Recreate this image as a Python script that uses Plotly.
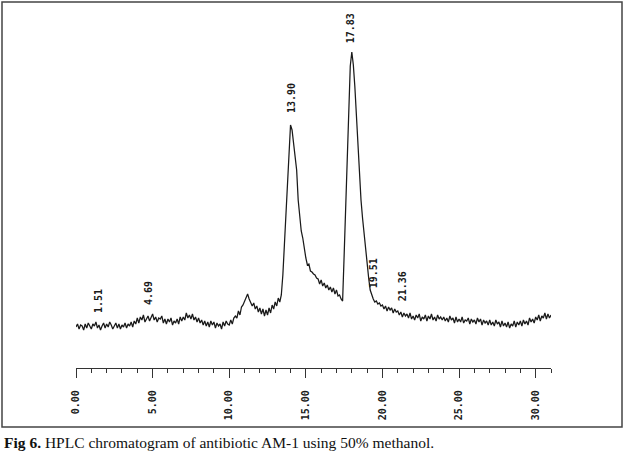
import plotly.graph_objects as go

# Detector signal sampled every 0.1 min from 0.0 to 31.0 min (arbitrary units above baseline)
signal = [
    3, 6, 1, 5, 4, 0, 6, 2, 7, 3,
    1, 6, 4, 8, 2, 5, 0, 4, 7, 2,
    6, 3, 8, 5, 1, 4, 7, 2, 6, 1,
    5, 3, 7, 2, 6, 4, 8, 3, 9, 6,
    12, 7, 13, 10, 15, 8, 12, 14, 9, 13,
    16, 10, 13, 8, 12, 11, 14, 7, 11, 6,
    11, 8, 12, 5, 9, 7, 11, 6, 13, 9,
    13, 10, 17, 12, 15, 11, 16, 10, 13, 8,
    12, 7, 10, 5, 9, 4, 8, 3, 9, 5,
    8, 2, 7, 4, 6, 1, 8, 4, 9, 6,
    5, 10, 6, 12, 14, 12, 19, 15, 23, 25,
    29, 33, 36, 31, 28, 24, 27, 21, 24, 18,
    22, 16, 21, 14, 20, 15, 22, 17, 25, 21,
    28, 24, 32, 28, 35, 55, 85, 112, 140, 170,
    205, 200, 185, 172, 160, 130, 110, 99, 92, 80,
    72, 65, 66, 59, 58, 56, 55, 52, 51, 46,
    50, 44, 47, 42, 45, 40, 43, 38, 42, 36,
    40, 34, 35, 31, 29, 75, 128, 178, 235, 264,
    278, 265, 243, 212, 177, 150, 130, 112, 96, 82,
    68, 52, 40, 34, 31, 28, 29, 26, 27, 24,
    25, 21, 24, 19, 23, 20, 22, 17, 21, 18,
    19, 15, 18, 13, 17, 14, 16, 12, 17, 11,
    14, 10, 15, 12, 16, 9, 13, 11, 15, 9,
    14, 11, 16, 10, 13, 9, 15, 11, 13, 10,
    13, 9, 12, 8, 14, 10, 12, 7, 13, 8,
    11, 8, 13, 7, 10, 9, 12, 6, 11, 8,
    10, 6, 12, 8, 11, 5, 10, 7, 9, 5,
    10, 5, 8, 4, 10, 6, 8, 3, 9, 4,
    7, 3, 8, 2, 6, 4, 9, 3, 8, 5,
    9, 4, 10, 6, 9, 5, 12, 8, 11, 7,
    13, 10, 15, 9, 14, 12, 17, 11, 16, 12,
    15,
]

# Retention-time peak labels
peak_labels = ["1.51", "4.69", "13.90", "17.83", "19.51", "21.36"]
peak_label_x = [1.44, 4.70, 14.03, 17.90, 19.40, 21.30]
peak_label_y = [15, 23, 215, 285, 40, 27]

tick_vals = [0, 5, 10, 15, 20, 25, 30]
tick_text = ["0.00", "5.00", "10.00", "15.00", "20.00", "25.00", "30.00"]

caption = "<b>Fig 6.</b> HPLC chromatogram of antibiotic AM-1 using 50% methanol."

W, H = 626, 456

fig = go.Figure()
fig.add_trace(go.Scatter(
    y=signal, x0=0, dx=0.1, mode="lines",
    line=dict(color="#1a1a1a", width=1.25),
    hoverinfo="skip", showlegend=False,
))

for txt, xv, yv in zip(peak_labels, peak_label_x, peak_label_y):
    fig.add_annotation(
        x=xv, y=yv, xref="x", yref="y", text=txt, showarrow=False,
        textangle=-90, xanchor="center", yanchor="bottom",
        font=dict(family="DejaVu Sans Mono", size=10, color="#1a1a1a", weight="bold"),
    )

fig.add_annotation(
    x=2 / W, y=1 - 442 / H, xref="paper", yref="paper", text=caption,
    showarrow=False, xanchor="left", yanchor="middle",
    font=dict(family="Liberation Serif", size=15.5, color="#111"),
)

fig.add_shape(
    type="rect", xref="paper", yref="paper",
    x0=2 / W, x1=622 / W, y0=1 - 427 / H, y1=1 - 2 / H,
    line=dict(color="#444", width=1.5),
)

fig.update_layout(
    width=W, height=H,
    margin=dict(l=0, r=0, t=0, b=0),
    paper_bgcolor="white", plot_bgcolor="white",
    xaxis=dict(
        domain=[76 / W, 551 / W], range=[0, 31],
        showline=True, linecolor="#333", linewidth=1.2,
        ticks="outside", ticklen=9, tickwidth=1.2, tickcolor="#333",
        tickvals=tick_vals, ticktext=tick_text, tickangle=-90,
        ticklabelstandoff=8,
        tickfont=dict(family="DejaVu Sans Mono", size=10, color="#1a1a1a", weight="bold"),
        minor=dict(dtick=1, ticks="outside", ticklen=4, tickwidth=1, tickcolor="#333"),
        showgrid=False, zeroline=False, fixedrange=True, automargin=False,
    ),
    yaxis=dict(
        domain=[1 - 368 / H, 1 - 2 / H], range=[-38, 328],
        visible=False, fixedrange=True,
    ),
)

fig.write_html("out.html")
